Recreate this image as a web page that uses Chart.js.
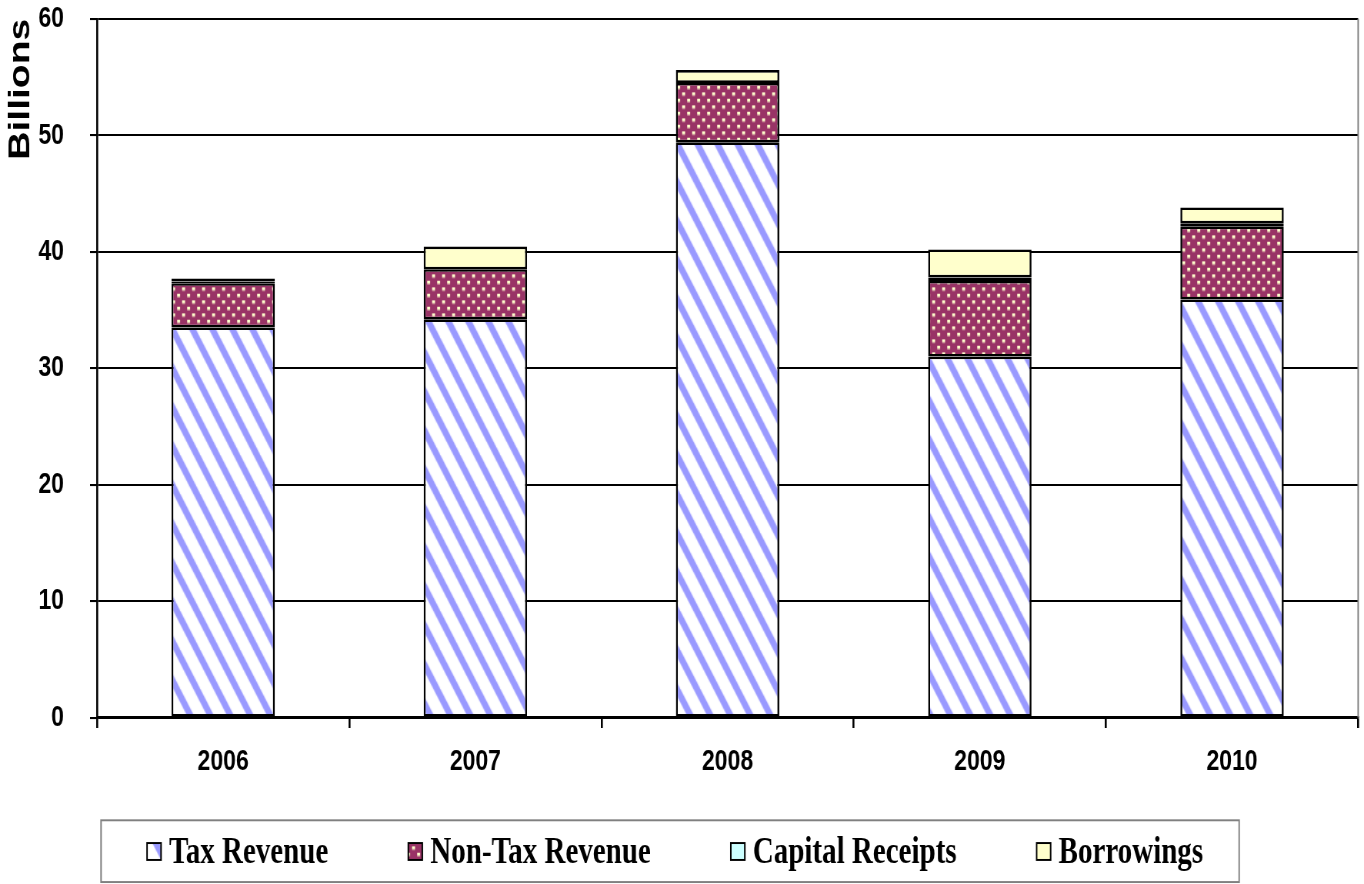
<!DOCTYPE html>
<html>
<head>
<meta charset="utf-8">
<script src="https://cdn.jsdelivr.net/npm/chart.js@4.4.1/dist/chart.umd.min.js"></script>
<style>
    html { margin: 0; padding: 0; background: #fff; overflow: hidden; }
    body { margin: 0; padding: 0; background: #fff; width: 1364px; height: 884px; }
    /* the original picture is stretched vertically, so draw short and stretch */
    #wrap { width: 1364px; height: 680px; transform: scaleY(1.3); transform-origin: 0 0; }
</style>
</head>
<body>
<div id="wrap"><canvas id="revenueChart" width="1364" height="680"></canvas></div>
<script>
const years = ["2006", "2007", "2008", "2009", "2010"];
const taxRevenue = [33.5, 34.2, 49.4, 31.0, 35.9];
const nonTaxRevenue = [3.8, 4.3, 5.1, 6.5, 6.25];
const capitalReceipts = [0.15, 0, 0, 0.3, 0.3];
const borrowings = [0.25, 1.95, 1.1, 2.4, 1.35];
const seriesNames = ["Tax Revenue", "Non-Tax Revenue", "Capital Receipts", "Borrowings"];
const yTicks = [0, 10, 20, 30, 40, 50, 60];

const canvas = document.getElementById("revenueChart");
const ctx = canvas.getContext("2d");

// diagonal blue stripes on white
function stripePattern() {
    const c = document.createElement("canvas");
    c.width = 20; c.height = 30;
    const g = c.getContext("2d");
    g.fillStyle = "#ffffff";
    g.fillRect(0, 0, 20, 30);
    g.fillStyle = "#9999ff";
    [-20, 0, 20].forEach(function (dx) {
        g.beginPath();
        g.moveTo(dx, 0);
        g.lineTo(dx + 7, 0);
        g.lineTo(dx + 27, 30);
        g.lineTo(dx + 20, 30);
        g.closePath();
        g.fill();
    });
    return ctx.createPattern(c, "repeat");
}

// light dots on plum
function dotPattern() {
    const c = document.createElement("canvas");
    c.width = 10; c.height = 10;
    const g = c.getContext("2d");
    g.fillStyle = "#993366";
    g.fillRect(0, 0, 10, 10);
    g.fillStyle = "#ffffcc";
    g.fillRect(2, 1, 3, 2.5);
    g.fillRect(7, 6, 3, 2.5);
    return ctx.createPattern(c, "repeat");
}

const fills = [stripePattern(), dotPattern(), "#ccffff", "#ffffcc"];
const values = [taxRevenue, nonTaxRevenue, capitalReceipts, borrowings];

// legend in a framed box + grey right edge of plot
const frameAndLegend = {
    id: "frameAndLegend",
    beforeDatasetsDraw(chart) {
        const a = chart.chartArea;
        const c = chart.ctx;
        c.save();
        c.strokeStyle = "#808080";
        c.lineWidth = 1.5;
        c.beginPath();
        c.moveTo(a.right, a.top);
        c.lineTo(a.right, a.bottom);
        c.stroke();
        c.restore();
    },
    afterDraw(chart) {
        const c = chart.ctx;
        const sets = chart.data.datasets;
        c.save();
        c.font = "bold 29px 'Liberation Serif'";
        const boxW = 14, boxH = 13, gap = 8, spacing = 80;
        const widths = sets.map(d => c.measureText(d.label).width);
        const total = widths.reduce((s, w) => s + w, 0) + sets.length * (boxW + gap) + spacing * (sets.length - 1);
        const cx = 675, cy = 655;
        let x = cx - total / 2;
        const left = x - 46, right = x + total + 36;
        c.strokeStyle = "#808080";
        c.lineWidth = 1.5;
        c.strokeRect(left, 631, right - left, 47.5);
        sets.forEach((d, i) => {
            c.fillStyle = d.backgroundColor;
            c.fillRect(x, cy - boxH / 2, boxW, boxH);
            c.strokeStyle = "#000";
            c.lineWidth = 1.5;
            c.strokeRect(x, cy - boxH / 2, boxW, boxH);
            x += boxW + gap;
            c.fillStyle = "#000";
            c.textBaseline = "middle";
            c.textAlign = "left";
            c.fillText(d.label, x, cy + 1);
            x += widths[i] + spacing;
        });
        c.restore();
    }
};

const tickFont = { family: "Liberation Sans", weight: "bold", size: 23 };

new Chart(ctx, {
    type: "bar",
    data: {
        labels: years,
        datasets: seriesNames.map((name, i) => ({
            label: name,
            data: values[i],
            backgroundColor: fills[i],
            borderColor: "#000",
            borderWidth: 2,
            borderSkipped: false,
            barPercentage: 0.41,
            categoryPercentage: 1
        }))
    },
    options: {
        responsive: false,
        devicePixelRatio: 1.3,
        animation: false,
        layout: { padding: { left: 3, right: 6, top: 14.5, bottom: 80 } },
        plugins: {
            legend: { display: false },
            tooltip: { enabled: false }
        },
        scales: {
            x: {
                stacked: true,
                grid: { offset: true, drawOnChartArea: false, tickLength: 8, color: "#000", lineWidth: 2 },
                border: { color: "#000", width: 2 },
                ticks: { color: "#000", font: tickFont, padding: 12 },
                afterFit(scale) { scale.height = 48; }
            },
            y: {
                stacked: true,
                min: yTicks[0],
                max: yTicks[yTicks.length - 1],
                ticks: { stepSize: yTicks[1] - yTicks[0], color: "#000", font: tickFont, padding: 26 },
                grid: { color: "#000", lineWidth: 1.6, tickLength: 7 },
                border: { color: "#000", width: 2 },
                title: {
                    display: true,
                    text: "Billions",
                    align: "end",
                    color: "#000",
                    font: { family: "Liberation Sans", weight: "bold", size: 30 },
                    padding: { top: 0, bottom: 0 }
                },
                afterFit(scale) {
                    scale.width = 94;
                    scale.paddingTop = 0;
                    scale.paddingBottom = 0;
                }
            }
        }
    },
    plugins: [frameAndLegend]
});
</script>
</body>
</html>
